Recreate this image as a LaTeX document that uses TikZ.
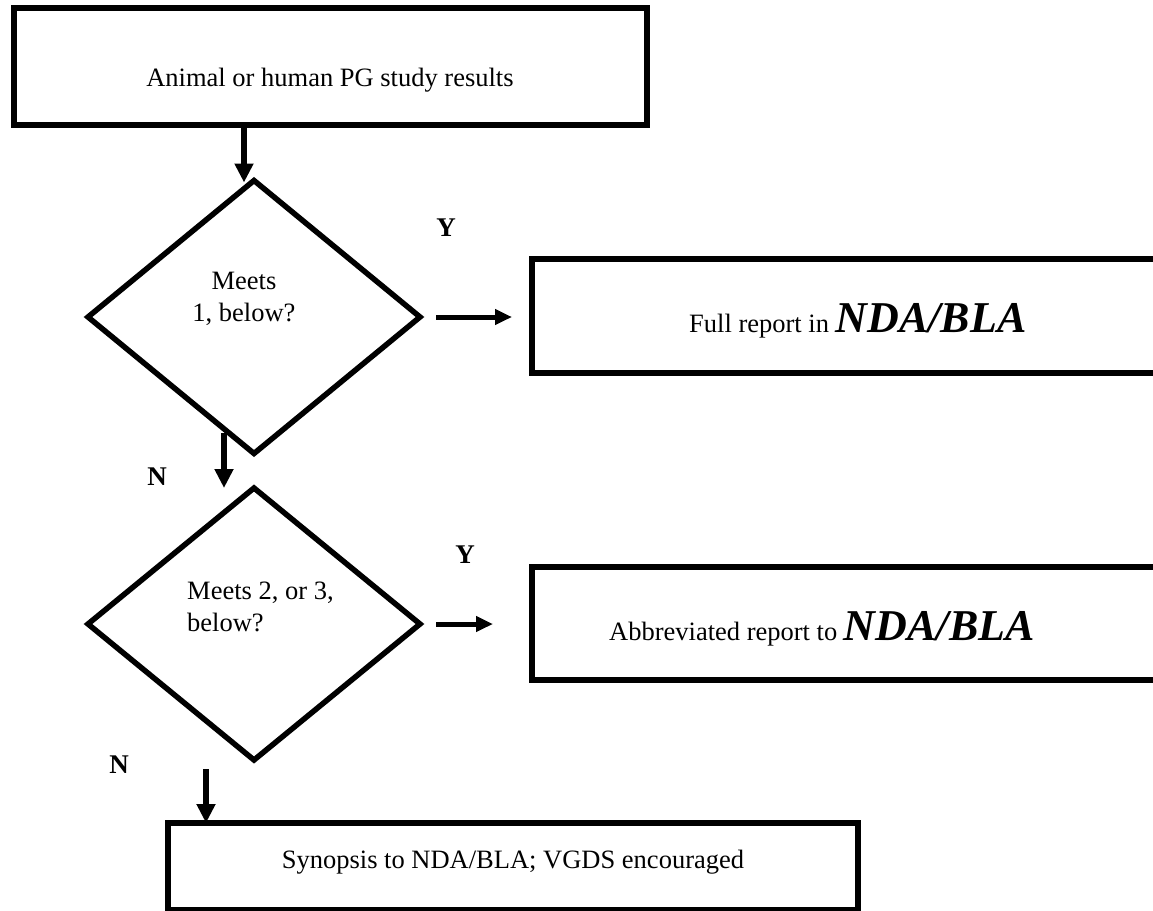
\documentclass[tikz,border=0pt]{standalone}
\usepackage{fontspec}
\setmainfont{Liberation Serif}
\usetikzlibrary{shapes.geometric,arrows.meta,calc}
\newcommand{\ndablabig}{{\fontsize{44}{48}\selectfont\bfseries\itshape NDA/BLA}}
\begin{document}
\begin{tikzpicture}[x=1pt,y=-1pt,
  box/.style={draw, line width=6pt, rectangle, inner sep=0pt, outer sep=0pt},
  dec/.style={draw, line width=5.5pt, diamond, inner sep=0pt, outer sep=0pt},
  txt/.style={font=\fontsize{26.5}{32}\selectfont, inner sep=0pt},
  yn/.style={font=\fontsize{27}{32}\selectfont\bfseries, inner sep=0pt},
  varrow/.style={line width=6pt, -{Triangle[width=18pt,length=19pt]}},
  harrow/.style={line width=5pt, -{Triangle[width=15pt,length=17pt]}}]
\useasboundingbox (0,0) rectangle (1153,910);
\clip (0,0) rectangle (1153,910);
% boxes
\node[box, minimum width=633pt, minimum height=117pt] (topbox) at (330.5,66.5) {};
\node[dec, minimum width=332pt, minimum height=273pt] (d1) at (254,317) {};
\node[box, minimum width=642pt, minimum height=114pt] (box2) at (853,316) {};
\node[dec, minimum width=332pt, minimum height=272pt] (d2) at (254,624) {};
\node[box, minimum width=642pt, minimum height=113pt] (box3) at (853,623.5) {};
\node[box, minimum width=690pt, minimum height=87pt] (box4) at (513,866.5) {};
% texts
\node[txt] (t0) at (330,80) {Animal or human PG study results};
\node[txt, align=center] (t1) at (244,299) {Meets\\1, below?};
\node[txt, anchor=base west] (t2) at (689,332) {Full report in \ndablabig};
\node[txt, align=left, anchor=west] (t3) at (187,607) {Meets 2, or 3,\\below?};
\node[txt, anchor=base west] (t4) at (609,640) {Abbreviated report to \ndablabig};
\node[txt] (t5) at (513,862) {Synopsis to NDA/BLA; VGDS encouraged};
\node[yn] (y1) at (446,228) {Y};
\node[yn] (y2) at (465,555) {Y};
\node[yn] (n1) at (157,477) {N};
\node[yn] (n2) at (119,765) {N};
% connector columns
\coordinate (a1x) at (244,0);
\coordinate (n1x) at (224,0);
\coordinate (n2x) at (206,0);
% connectors
\draw[varrow] (topbox.south -| a1x) -- ($(d1.north -| a1x)+(0,2)$);
\draw[harrow, shorten <=16pt, shorten >=20pt] (d1.east) -- (d1.east -| box2.west);
\draw[varrow] ($(d1.south -| n1x)+(0,-21)$) -- (d2.north -| n1x);
\draw[harrow, shorten <=16pt, shorten >=39pt] (d2.east) -- (d2.east -| box3.west);
\draw[varrow] ($(d2.south -| n2x)+(0,9)$) -- (box4.north -| n2x);
\end{tikzpicture}
\end{document}
